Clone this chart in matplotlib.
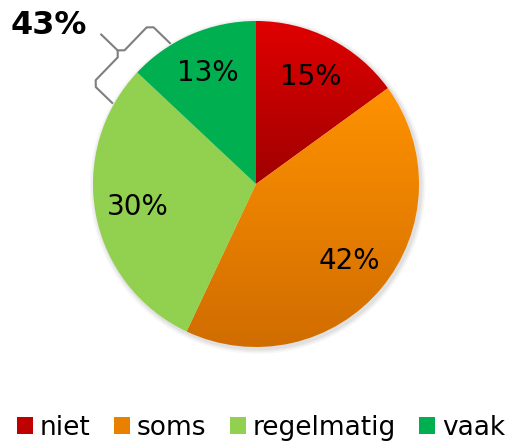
import numpy as np
import matplotlib.pyplot as plt
from matplotlib.colors import LinearSegmentedColormap
from matplotlib.patches import Patch

# data
categories = ["niet", "soms", "regelmatig", "vaak"]
values = [15, 42, 30, 13]
labels = ["15%", "42%", "30%", "13%"]
combined_label = "43%"  # regelmatig + vaak

# gradient colours (top, bottom) per slice
grad_colors = [
    ("#e00000", "#a00000"),
    ("#ff9200", "#d06c00"),
    ("#92d050", "#92d050"),
    ("#00b050", "#00b050"),
]
legend_colors = ["#c00000", "#e88000", "#92d050", "#00b050"]

W, H = 510, 441
fig = plt.figure(figsize=(W / 100, H / 100), dpi=100)
ax = fig.add_axes([0, 0, 1, 1])

# pixel geometry -> data coords (radius 1 = 163 px)
cx, cy, rpx = 256, 184, 163
ax.set_xlim(-cx / rpx, (W - cx) / rpx)
ax.set_ylim(cy / rpx - H / rpx, cy / rpx)
ax.axis("off")

# soft shadow
for k, a in enumerate([0.05, 0.04, 0.03]):
    sh = plt.Circle((0.01, -0.012), 1.0 + 0.01 * (k + 1), color="black",
                    alpha=a, lw=0, zorder=0)
    ax.add_patch(sh)

wedges, texts = ax.pie(values, startangle=90, counterclock=False,
                       radius=1.0, labels=labels, labeldistance=0.74,
                       wedgeprops=dict(linewidth=0),
                       textprops=dict(fontsize=20, color="black"))
for t in texts:
    t.set_ha("center")
    t.set_va("center")

# fill each wedge with a vertical gradient
for w, (top, bot) in zip(wedges, grad_colors):
    w.set_facecolor("none")
    path = w.get_path()
    verts = path.vertices
    y0, y1 = verts[:, 1].min(), verts[:, 1].max()
    cmap = LinearSegmentedColormap.from_list("g", [bot, top])
    grad = np.linspace(0, 1, 256).reshape(-1, 1)
    im = ax.imshow(grad, cmap=cmap, origin="lower", aspect="auto",
                   extent=(-1, 1, y0, y1), zorder=1, interpolation="bilinear")
    im.set_clip_path(w)
    w.set_zorder(2)
ax.set_xlim(-cx / rpx, (W - cx) / rpx)
ax.set_ylim(cy / rpx - H / rpx, cy / rpx)
for t in texts:
    t.set_zorder(5)

# brace around regelmatig + vaak callout
theta = np.deg2rad(136)
u = np.array([np.cos(theta), np.sin(theta)])
tv = np.array([-np.sin(theta), np.cos(theta)])
half = 0.255
pts = [
    (0.98, -half), (1.12, -half), (1.15, -half + 0.03), (1.15, -0.03),
    (1.18, 0.0), (1.15, 0.03), (1.15, half - 0.03), (1.12, half), (0.98, half),
]
bx = [r * u[0] + s * tv[0] for r, s in pts]
by = [r * u[1] + s * tv[1] for r, s in pts]
ax.plot(bx, by, color="#7f7f7f", lw=1.5, zorder=6, solid_joinstyle="round")
tip = [(1.18, 0.0), (1.32, 0.0)]
ax.plot([r * u[0] for r, s in tip], [r * u[1] for r, s in tip],
        color="#7f7f7f", lw=1.5, zorder=6)
ax.text((49 - cx) / rpx, (cy - 25) / rpx, combined_label, fontsize=23,
        fontweight="bold", ha="center", va="center", zorder=7)

handles = [Patch(facecolor=c, edgecolor="none") for c in legend_colors]
fig.legend(handles, categories, loc="center", bbox_to_anchor=(0.512, 13 / H),
           ncol=4, frameon=False, fontsize=19, handlelength=0.6,
           handleheight=0.6, handletextpad=0.25, columnspacing=0.9,
           borderaxespad=0)

fig.savefig("out.png", dpi=100)
